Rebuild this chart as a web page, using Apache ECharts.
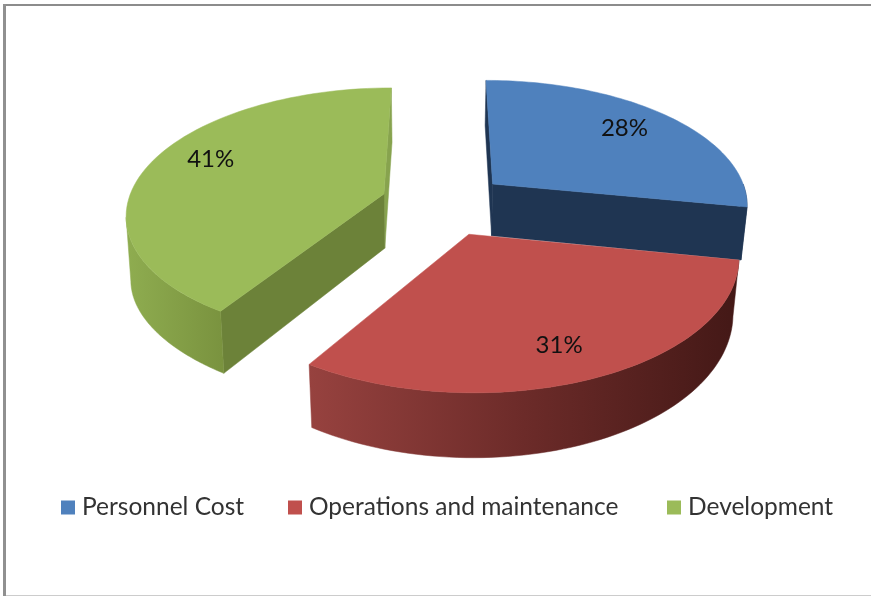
<!DOCTYPE html>
<html><head><meta charset="utf-8">
<style>html,body{margin:0;padding:0;background:#fff}#c{width:871px;height:596px}</style>
<script src="https://cdn.jsdelivr.net/npm/echarts@6/dist/echarts.min.js"></script>
</head><body><div id="c"></div>
<script>
const categories = ["Personnel Cost", "Operations and maintenance", "Development"];
const values = [28, 31, 41];

// look of each slice
const topColors = ["#4F81BD", "#C0504D", "#9BBB59"];
const startWallColors = ["#1F3552", "#7A2F2D", "#6C8239"];
const endWallColors = ["#1F3552", "#7A2F2D", "#87A34E"];
const rimStops = [
  [[0, "#2A4A70"], [1, "#1F3552"]],
  [[0, "#97423F"], [0.5, "#6C2B29"], [1, "#431816"]],
  [[0, "#8FAD50"], [1, "#7A933F"]]
];
const rimSpan = [[100, 325], [308, 740], [125, 222]];
const rimExtraDepth = [0, 0, 8];
const depths = [53, 53, 55];
const tapers = [0.02, 0.02, 0.015];
const pieceOffsets = [[0.206, -0.172], [0.105, 0.226], [-0.225, -0.09]];
const labelNudges = [[-5, -1], [-6, 3], [9, -9]];
const legendLefts = [61, 288, 667];

// perspective of the plate
const view = { cx: 441, cy: 205, rx: 257, ry: 125, k: 0.15 };
const total = values.reduce((a, b) => a + b, 0);
const starts = [];
values.reduce((acc, v, i) => { starts[i] = acc; return acc + v; }, 0);

function project(X, Y, depth, taper) {
  const w = 1 - view.k * Y;
  return [view.cx + (1 - taper) * view.rx * X / w, view.cy + (view.ry * Y + depth) / w];
}
const rad = (p) => p / total * Math.PI * 2;
const LEFT = Math.PI * 1.44;  // where the plate's edge leaves the silhouette on the left

function sliceChildren(i) {
  const a0 = rad(starts[i]), a1 = rad(starts[i] + values[i]);
  const [ox, oy] = pieceOffsets[i];
  const topPt = (a) => project(ox + Math.sin(a), oy - Math.cos(a), 0, 0);
  const lowPt = (a) => {
    const t = Math.max(0, Math.min(1, (a - a0) / (LEFT - a0)));
    return project(ox + Math.sin(a), oy - Math.cos(a), depths[i] + rimExtraDepth[i] * t * t, tapers[i]);
  };
  const apexTop = project(ox, oy, 0, 0), apexLow = project(ox, oy, depths[i], tapers[i]);
  const arc = (from, to, fn) => {
    const pts = [], n = 72;
    for (let s = 0; s <= n; s++) pts.push(fn(from + (to - from) * s / n));
    return pts;
  };
  const poly = (points, fill, z2) => ({
    type: "polygon", z2, shape: { points },
    style: { fill, stroke: fill, lineWidth: 0.5 }
  });
  const kids = [];
  // cut walls: the front slice shows none of its own
  if (i !== 1) {
    kids.push(poly([topPt(a1), apexTop, apexLow, lowPt(a1)], endWallColors[i], 1));
    kids.push(poly([topPt(a0), apexTop, apexLow, lowPt(a0)], startWallColors[i], 1));
  }
  // outer rim, only the part facing the viewer
  const from = Math.max(a0, Math.PI * 0.5), to = Math.min(a1, LEFT);
  if (to > from) {
    const span = rimSpan[i];
    const fill = new echarts.graphic.LinearGradient(span[0], 0, span[1], 0,
      rimStops[i].map(s => ({ offset: s[0], color: s[1] })), true);
    kids.push(poly(arc(from, to, topPt).concat(arc(from, to, lowPt).reverse()), fill, 2));
  }
  // top face
  kids.push(poly([apexTop].concat(arc(a0, a1, topPt)), topColors[i], 3));
  // percentage label
  const mid = (a0 + a1) / 2;
  const p = project(ox + 0.78 * Math.sin(mid), oy - 0.78 * Math.cos(mid), 0, 0);
  kids.push({
    type: "text", z2: 4, x: p[0] + labelNudges[i][0], y: p[1] + labelNudges[i][1],
    style: { text: Math.round(values[i] / total * 100) + "%", fill: "#111",
      font: "24px Lato", align: "center", verticalAlign: "middle" }
  });
  return kids;
}

const chart = echarts.init(document.getElementById("c"), null, { renderer: "canvas" });
chart.setOption({
  animation: false,
  backgroundColor: "#fff",
  legend: categories.map((name, i) => ({
    data: [name], left: legendLefts[i], top: 495, icon: "rect", padding: 0,
    itemWidth: 14, itemHeight: 14,
    textStyle: { fontFamily: "Lato", fontSize: 24.5, color: "#333", padding: [0, 0, 0, 2] }
  })),
  graphic: [
    { type: "rect", silent: true, shape: { x: 3, y: 4, width: 868, height: 2 }, style: { fill: "#8c8c8c" } },
    { type: "rect", silent: true, shape: { x: 3, y: 4, width: 3, height: 592 }, style: { fill: "#909090" } },
    { type: "rect", silent: true, shape: { x: 6, y: 595, width: 865, height: 1 }, style: { fill: "#cccccc" } }
  ],
  series: categories.map((name, i) => ({
    type: "custom", name, coordinateSystem: "none", silent: true, z: i === 1 ? 3 : 2,
    itemStyle: { color: topColors[i] },
    data: [values[i]],
    renderItem: () => ({ type: "group", children: sliceChildren(i) })
  }))
});
</script></body></html>
